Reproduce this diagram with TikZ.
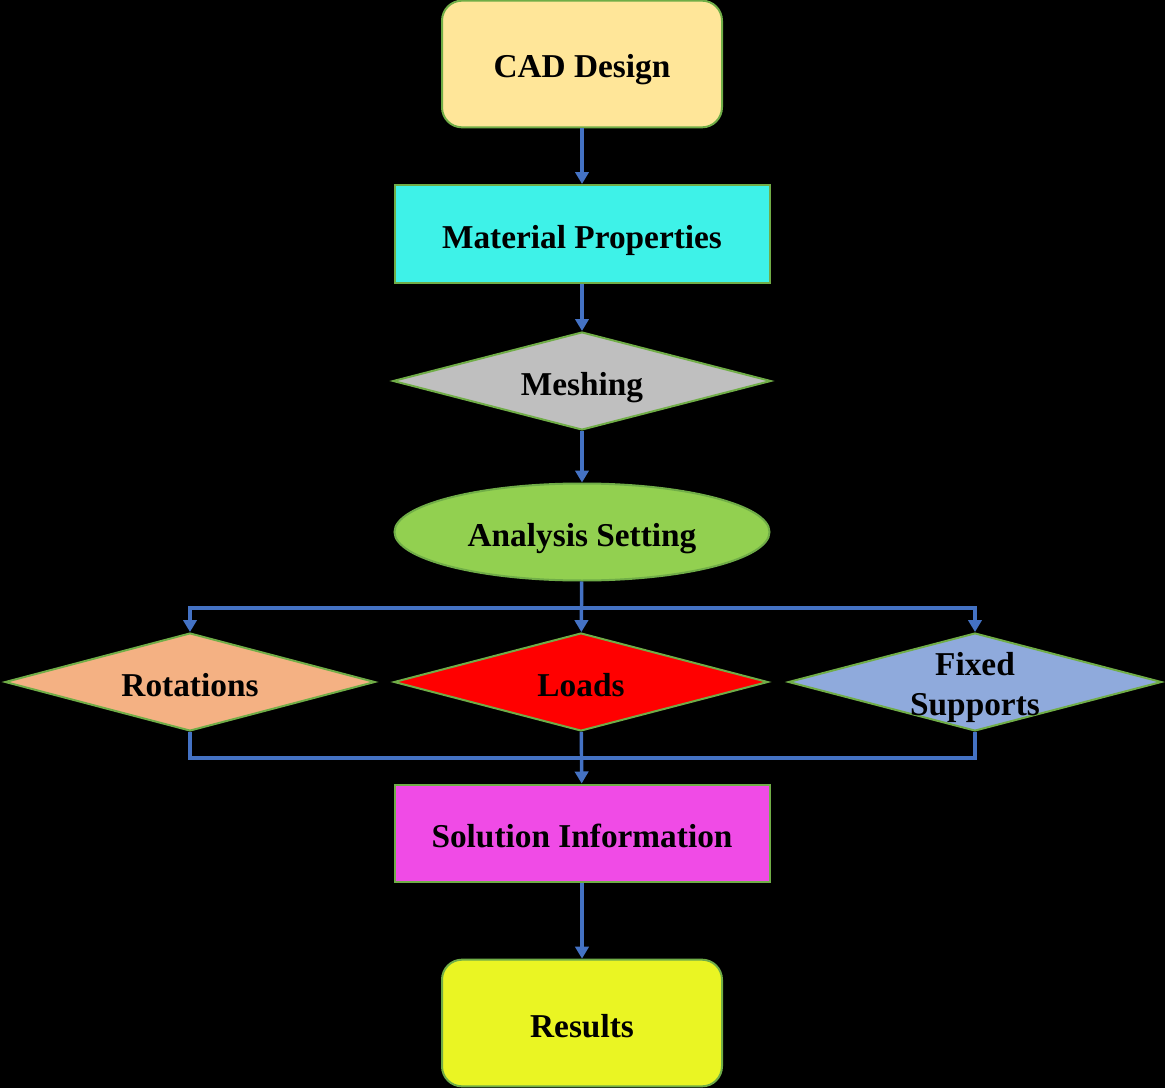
\documentclass[tikz,border=0pt]{standalone}
\usepackage{fontspec}
\setmainfont{Liberation Serif}
\usetikzlibrary{shapes.geometric,arrows.meta}
\definecolor{bord}{HTML}{70AD47}
\definecolor{conn}{HTML}{4472C4}
\definecolor{cadc}{HTML}{FFE699}
\definecolor{matc}{HTML}{3EF2E8}
\definecolor{mshc}{HTML}{BFBFBF}
\definecolor{anac}{HTML}{92D050}
\definecolor{rotc}{HTML}{F4B183}
\definecolor{loadc}{HTML}{FF0000}
\definecolor{fixc}{HTML}{8FAADC}
\definecolor{solc}{HTML}{F04BE6}
\definecolor{resc}{HTML}{EAF523}
\tikzset{
  txt/.style={font=\fontsize{25}{30}\selectfont\bfseries, text=black},
  onel/.style={txt, text height=21pt, text depth=0pt},
  base/.style={draw=bord, line width=1.5pt, inner sep=0pt, align=center},
  rbox/.style={base, onel, rectangle, rounded corners=15pt, minimum width=210pt, minimum height=95pt},
  sbox/.style={base, onel, rectangle, minimum width=281.25pt, minimum height=73.5pt},
  dia/.style={base, diamond, minimum width=#1, minimum height=73.5pt},
  ell/.style={base, onel, ellipse, minimum width=281.25pt, minimum height=72.75pt},
  arr/.style={draw=conn, line width=2.6pt, -{Triangle[length=9pt,width=10pt]}},
  ln/.style={draw=conn, line width=2.6pt}
}
\begin{document}
\begin{tikzpicture}[x=0.75pt,y=-0.75pt]
\fill[black] (0,0) rectangle (1165,1088);
\useasboundingbox (0,0) rectangle (1165,1088);
\node[rbox, fill=cadc] (cad) at (582,64) {CAD Design};
\node[sbox, fill=matc] (mat) at (582,234) {Material Properties};
\node[dia=283.5pt, fill=mshc, label={[onel]center:Meshing}] (msh) at (582,381) {};
\node[ell, fill=anac] (ana) at (582,532) {Analysis Setting};
\node[dia=277.5pt, fill=rotc, label={[onel]center:Rotations}] (rot) at (190,682) {};
\node[dia=280.5pt, fill=loadc, label={[onel]center:Loads}] (loads) at (581,682) {};
\node[dia=280pt, fill=fixc, label={[txt, align=center, yshift=-4pt]center:Fixed\\Supports}] (fix) at (975,682) {};
\node[sbox, fill=solc, minimum height=72.75pt] (sol) at (582,833) {Solution Information};
\node[rbox, fill=resc] (res) at (582,1023) {Results};
\coordinate (j1) at (582,608);
\coordinate (j2) at (582,758);
\draw[arr] (cad) -- (mat);
\draw[arr] (mat) -- (msh);
\draw[arr] (msh) -- (ana);
\draw[arr] (ana) -- (loads);
\draw[arr] (j1) -| (rot.north);
\draw[arr] (j1) -| (fix.north);
\draw[ln] (rot.south) |- (j2);
\draw[ln] (fix.south) |- (j2);
\draw[arr] (loads) -- (sol);
\draw[arr] (sol) -- (res);
\end{tikzpicture}
\end{document}
